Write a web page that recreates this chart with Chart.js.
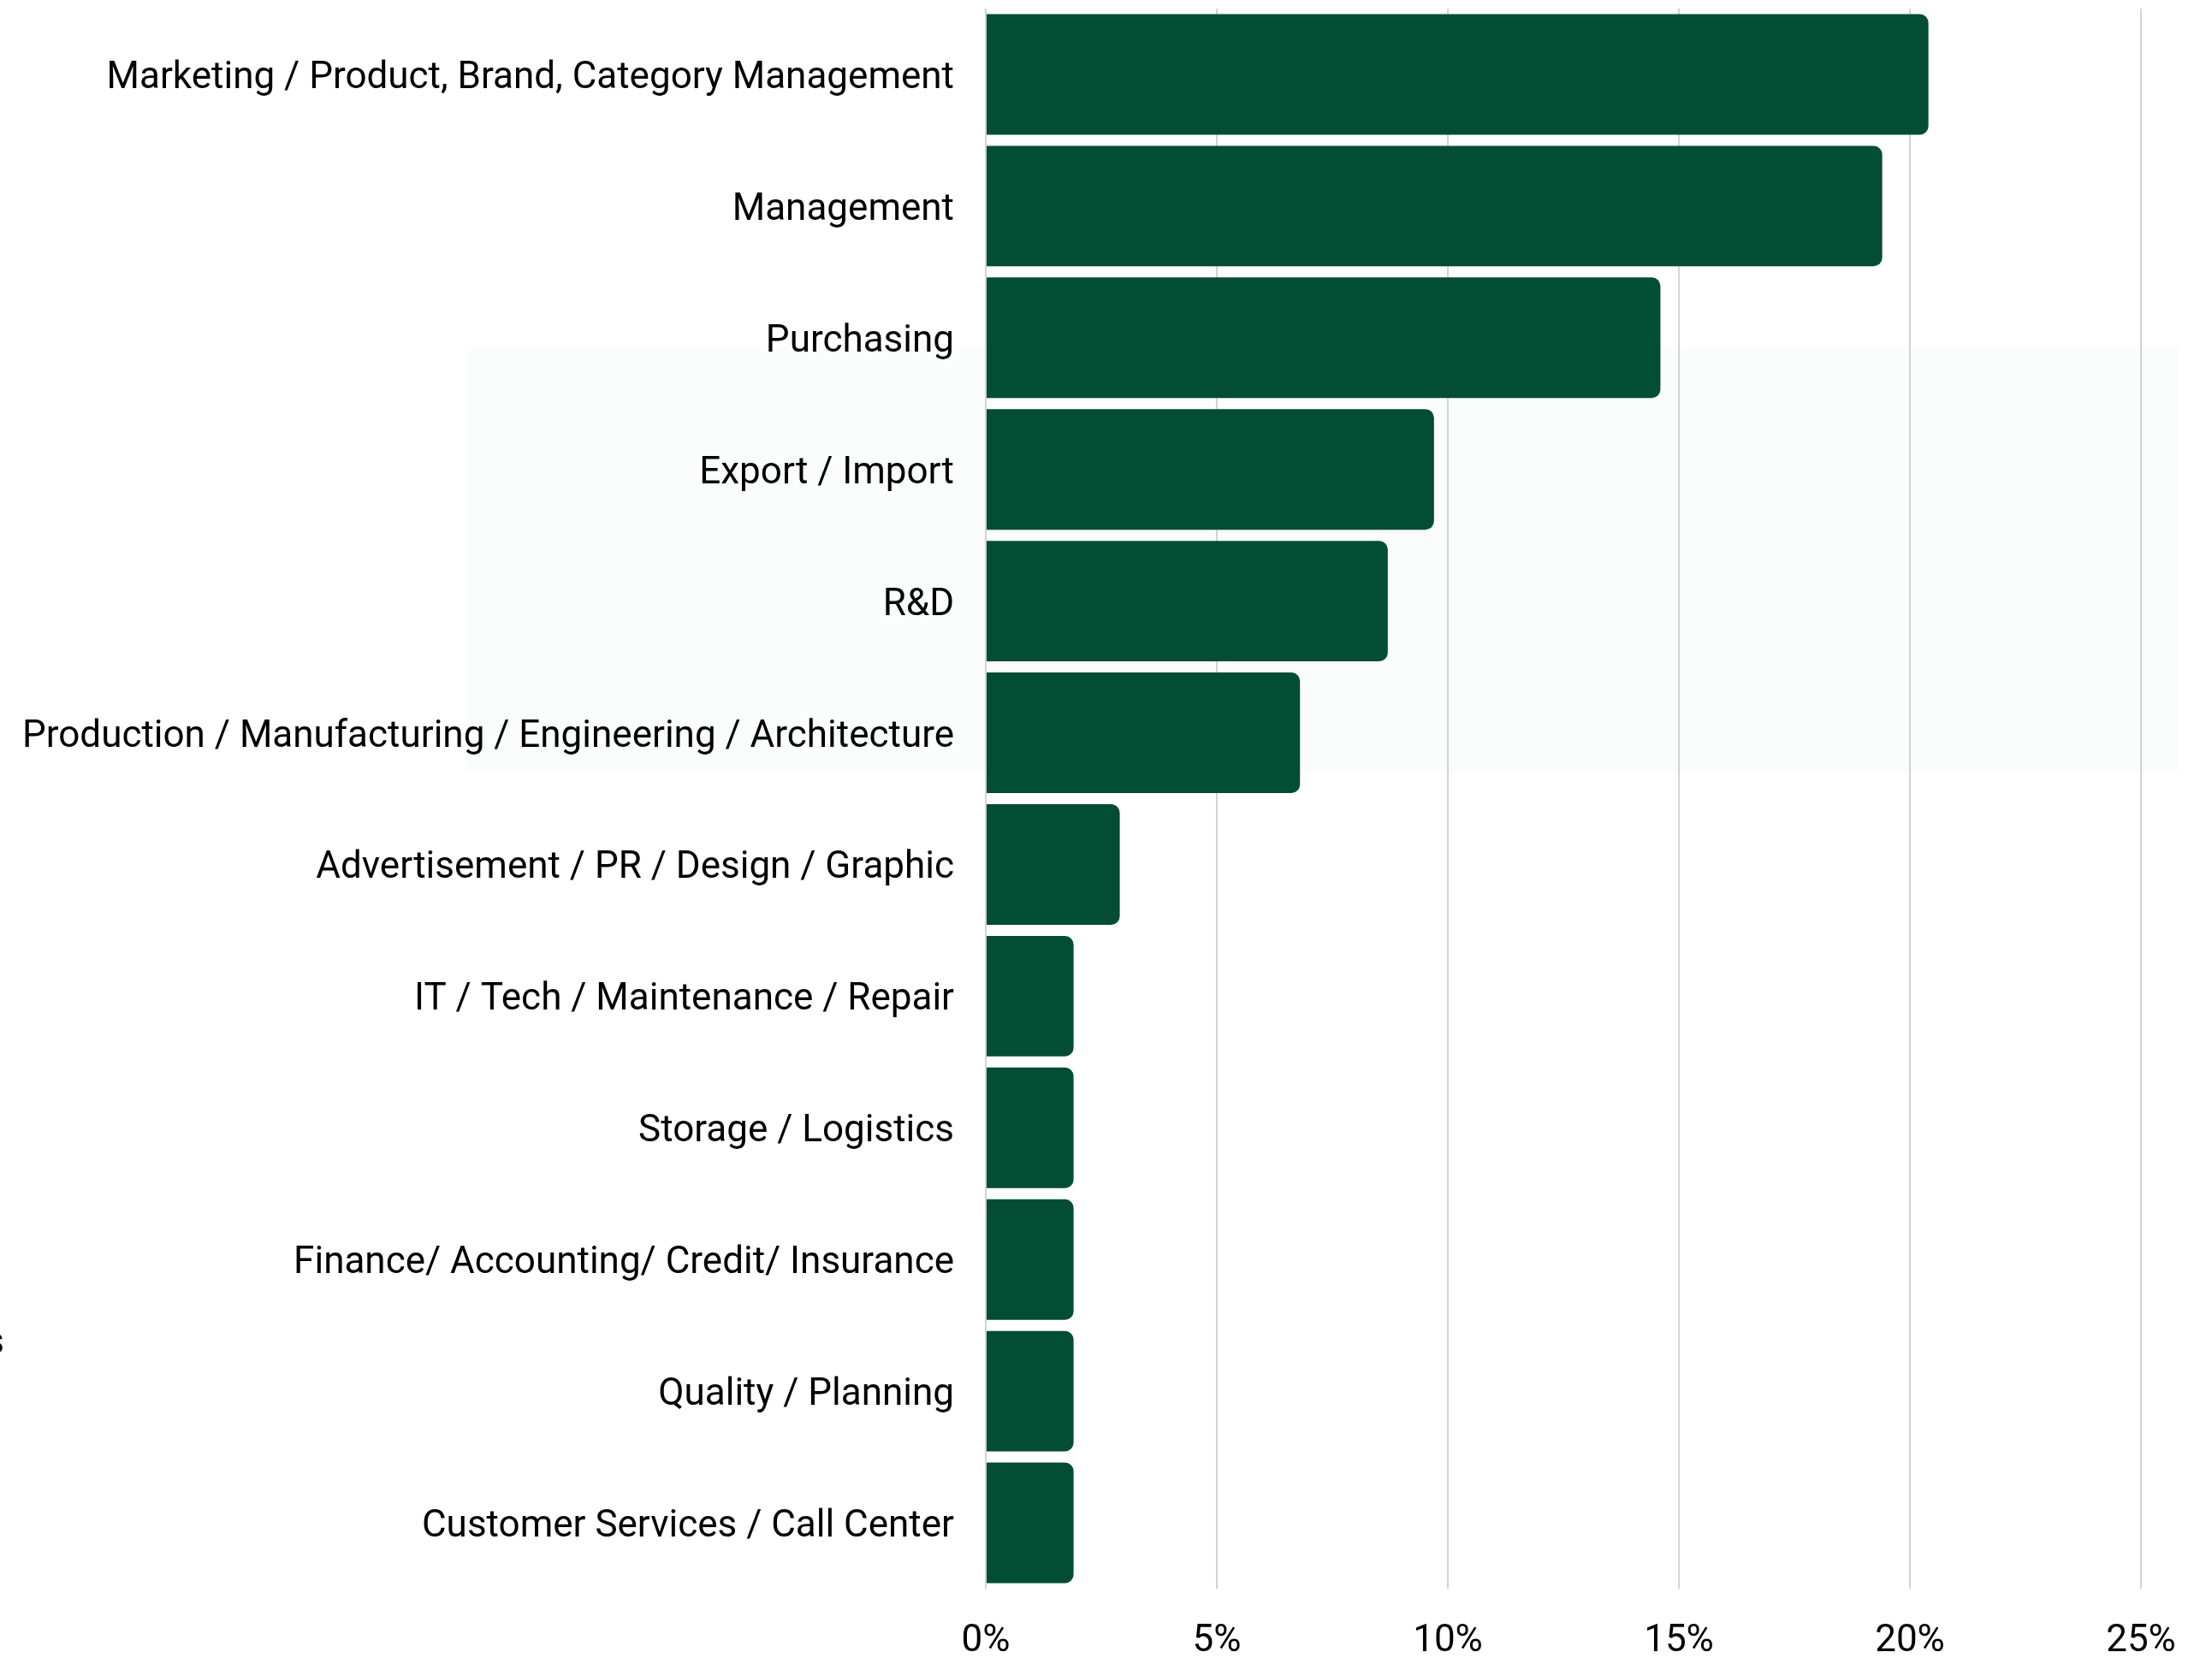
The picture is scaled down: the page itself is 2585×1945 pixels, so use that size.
<!DOCTYPE html>
<html>
<head>
<meta charset="utf-8">
<script src="https://cdn.jsdelivr.net/npm/chart.js@4.4.1/dist/chart.umd.min.js"></script>
<style>
  html, body { margin: 0; padding: 0; background: #ffffff; }
  #wrap { width: 2585px; height: 1945px; position: relative; }
</style>
</head>
<body>
<div id="wrap"><canvas id="jobChart"></canvas></div>
<script>
// ---- Data ----
const categories = [
  'Marketing / Product, Brand, Category Management',
  'Management',
  'Purchasing',
  'Export / Import',
  'R&D',
  'Production / Manufacturing / Engineering / Architecture',
  'Advertisement / PR / Design / Graphic',
  'IT / Tech / Maintenance / Repair',
  'Storage / Logistics',
  'Finance/ Accounting/ Credit/ Insurance',
  'Quality / Planning',
  'Customer Services / Call Center'
];
const shares = [20.4, 19.4, 14.6, 9.7, 8.7, 6.8, 2.9, 1.9, 1.9, 1.9, 1.9, 1.9];
const xTicks = [0, 5, 10, 15, 20, 25];

const labelFont = { family: "Roboto, 'Liberation Sans', sans-serif", size: 44 };

// faint panel behind the middle bars + clipped text at the left edge
const extras = {
  id: 'extras',
  beforeDraw(chart) {
    const ctx = chart.ctx;
    ctx.save();
    ctx.fillStyle = '#fbfdfc';
    ctx.fillRect(544, 404, 2003, 499);
    ctx.restore();
  },
  afterDraw(chart) {
    const ctx = chart.ctx;
    ctx.save();
    ctx.font = `${labelFont.size}px ${labelFont.family}`;
    ctx.fillStyle = '#000';
    ctx.textAlign = 'right';
    ctx.textBaseline = 'middle';
    ctx.fillText('s', 5, 1571);
    ctx.restore();
  }
};

new Chart(document.getElementById('jobChart'), {
  type: 'bar',
  data: {
    labels: categories,
    datasets: [{
      data: shares,
      backgroundColor: '#024d34',
      borderRadius: 10,
      borderSkipped: 'start',
      barPercentage: 0.915,
      categoryPercentage: 1.0
    }]
  },
  options: {
    indexAxis: 'y',
    responsive: true,
    maintainAspectRatio: false,
    animation: false,
    layout: { padding: { top: 10, right: 83, bottom: 0, left: 0 } },
    plugins: { legend: { display: false }, tooltip: { enabled: false } },
    scales: {
      x: {
        min: 0,
        max: 25,
        afterBuildTicks(scale) { scale.ticks = xTicks.map(v => ({ value: v })); },
        afterFit(scale) { scale.height = 88; },
        border: { display: false },
        grid: { color: '#d3d3d3', lineWidth: 2, drawTicks: false },
        ticks: {
          padding: 36,
          color: '#000',
          font: labelFont,
          callback: v => v + '%'
        }
      },
      y: {
        afterFit(scale) {
          scale.width = 1152;
          scale.paddingTop = 0;
          scale.paddingBottom = 0;
        },
        border: { display: false },
        grid: { display: false, drawTicks: false },
        ticks: { padding: 37, labelOffset: 5, color: '#000', font: labelFont }
      }
    }
  },
  plugins: [extras]
});
</script>
</body>
</html>
